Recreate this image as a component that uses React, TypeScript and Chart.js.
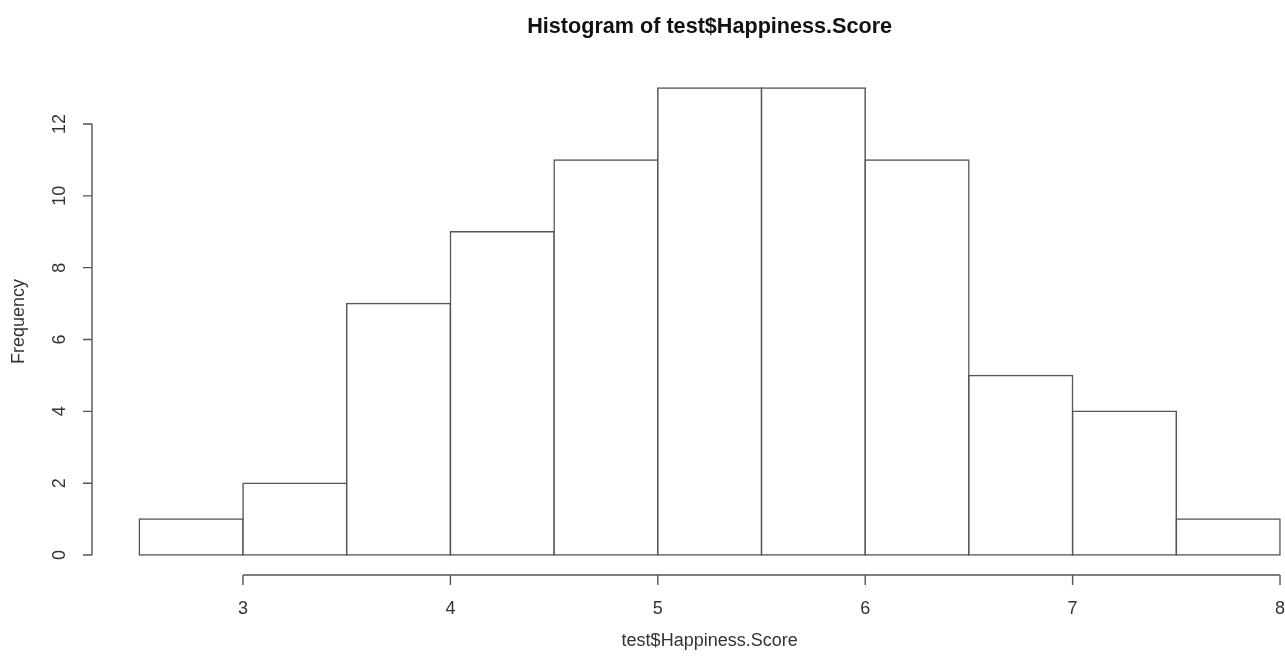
import React, { useEffect, useRef } from "react";
import { Chart, registerables } from "chart.js";
Chart.register(...registerables);

const binStarts = [2.5, 3, 3.5, 4, 4.5, 5, 5.5, 6, 6.5, 7, 7.5];
const binWidth = 0.5;
const counts = [1, 2, 7, 9, 11, 13, 13, 11, 5, 4, 1];
const xTicks = [3, 4, 5, 6, 7, 8];
const yTicks = [0, 2, 4, 6, 8, 10, 12];
const xRange = [2.272, 8.024];
const yRange = [-0.52, 13.52];
const titleText = "Histogram of test$Happiness.Score";
const xTitle = "test$Happiness.Score";
const yTitle = "Frequency";

const FONT = '"Liberation Sans", Arial, Helvetica, sans-serif';

const rAxesPlugin = {
  id: "rAxes",
  afterDraw(chart: any) {
    const { ctx, chartArea, scales } = chart;
    const xs = scales.x;
    const ys = scales.y;
    ctx.save();
    ctx.strokeStyle = "#555";
    ctx.lineWidth = 1.4;
    // y axis
    const ax = chartArea.left;
    const y0 = ys.getPixelForValue(yTicks[0]);
    const y1 = ys.getPixelForValue(yTicks[yTicks.length - 1]);
    ctx.beginPath();
    ctx.moveTo(ax, y0);
    ctx.lineTo(ax, y1);
    yTicks.forEach((t) => {
      const p = ys.getPixelForValue(t);
      ctx.moveTo(ax, p);
      ctx.lineTo(ax - 9, p);
    });
    // x axis
    const ay = 575;
    const x0 = xs.getPixelForValue(xTicks[0]);
    const x1 = xs.getPixelForValue(xTicks[xTicks.length - 1]);
    ctx.moveTo(x0, ay);
    ctx.lineTo(x1, ay);
    xTicks.forEach((t) => {
      const p = xs.getPixelForValue(t);
      ctx.moveTo(p, ay);
      ctx.lineTo(p, ay + 10);
    });
    ctx.stroke();

    ctx.fillStyle = "#333";
    ctx.font = `18px ${FONT}`;
    ctx.textAlign = "center";
    ctx.textBaseline = "middle";
    xTicks.forEach((t) => {
      ctx.fillText(String(t), xs.getPixelForValue(t), 609);
    });
    yTicks.forEach((t) => {
      const p = ys.getPixelForValue(t);
      ctx.save();
      ctx.translate(ax - 32, p);
      ctx.rotate(-Math.PI / 2);
      ctx.fillText(String(t), 0, 0);
      ctx.restore();
    });
    const midX = xs.getPixelForValue(5.25);
    ctx.fillText(xTitle, midX, 641);
    ctx.save();
    ctx.translate(19, ys.getPixelForValue(6.5));
    ctx.rotate(-Math.PI / 2);
    ctx.fillText(yTitle, 0, 0);
    ctx.restore();

    ctx.fillStyle = "#111";
    ctx.font = `bold 21.6px ${FONT}`;
    ctx.fillText(titleText, midX, 27);
    ctx.restore();
  },
};

export default function App() {
  const ref = useRef<HTMLCanvasElement>(null);
  useEffect(() => {
    if (!ref.current) return;
    const data = binStarts.map((s, i) => ({ x: s + binWidth / 2, y: counts[i] }));
    const chart = new Chart(ref.current, {
      type: "bar",
      data: {
        datasets: [
          {
            data: data as any,
            backgroundColor: "#ffffff",
            borderColor: "#555",
            borderWidth: 1.5,
            inflateAmount: 0.75,
            barPercentage: 1,
            categoryPercentage: 1,
            borderSkipped: false,
          } as any,
        ],
      },
      options: {
        responsive: false,
        animation: false,
        layout: { padding: { left: 92, right: 0, top: 69.4, bottom: 88.3 } },
        plugins: { legend: { display: false }, tooltip: { enabled: false } },
        scales: {
          x: { type: "linear", min: xRange[0], max: xRange[1], offset: false, display: false },
          y: { type: "linear", min: yRange[0], max: yRange[1], display: false },
        },
      },
      plugins: [rAxesPlugin],
    });
    return () => chart.destroy();
  }, []);
  return (
    <div style={{ position: "absolute", left: 0, top: 0, width: 1285, height: 662, background: "#fff" }}>
      <canvas ref={ref} width={1285} height={662} />
    </div>
  );
}
